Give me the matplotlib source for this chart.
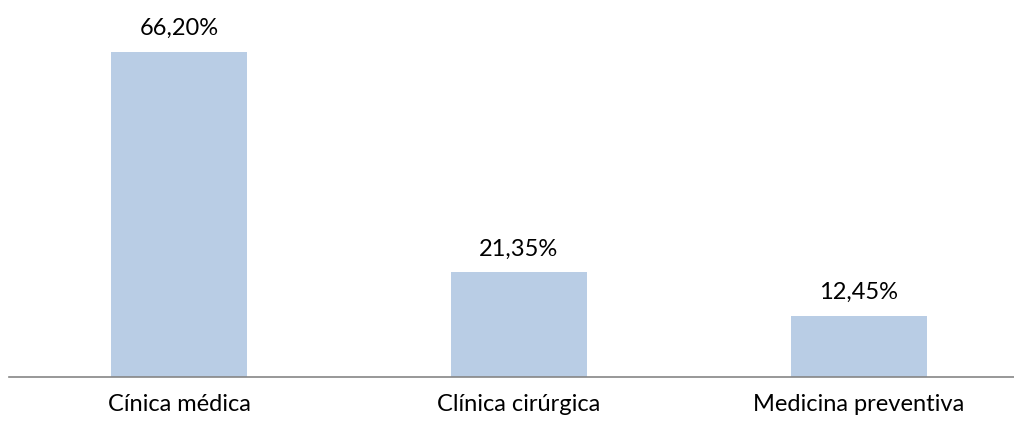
import matplotlib.pyplot as plt

categories = ['Cínica médica', 'Clínica cirúrgica', 'Medicina preventiva']
values = [66.20, 21.35, 12.45]
labels = ['66,20%', '21,35%', '12,45%']

plt.rcParams['font.family'] = ['Lato', 'DejaVu Sans']

fig = plt.figure(figsize=(10.14, 4.23), dpi=100)
# axis spans a bit beyond the right edge, like the original
ax = fig.add_axes([9 / 1014, 46 / 423, 1020 / 1014, 377 / 423])

x = range(len(categories))
bars = ax.bar(x, values, width=0.4, color='#B9CDE5')
ax.set_xlim(-0.5, 2.5)
ax.set_ylim(0, 377 / 4.91)

for b, lab in zip(bars, labels):
    ax.text(b.get_x() + b.get_width() / 2, b.get_height() + 2.6, lab,
            ha='center', va='bottom', fontsize=17, color='black')

for side in ['top', 'right', 'left']:
    ax.spines[side].set_visible(False)
ax.spines['bottom'].set_color('#868686')
ax.spines['bottom'].set_linewidth(1.2)
ax.set_yticks([])
ax.set_xticks(list(x))
ax.set_xticklabels(categories, fontsize=17)
ax.tick_params(axis='x', length=0, pad=12)

fig.savefig('out.png', dpi=100)
